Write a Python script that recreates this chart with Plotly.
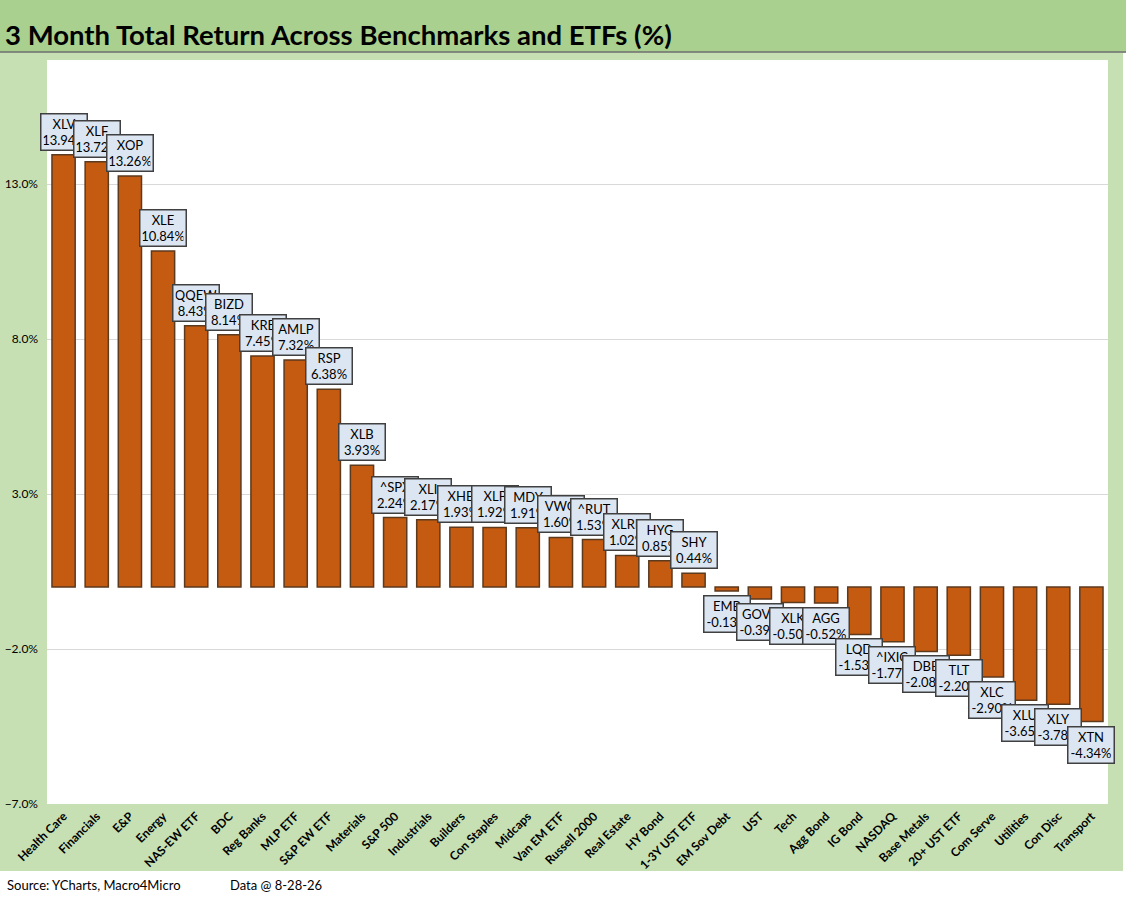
import plotly.graph_objects as go

# Data
categories = ["Health Care", "Financials", "E&P", "Energy", "NAS-EW ETF", "BDC", "Reg Banks",
              "MLP ETF", "S&P EW ETF", "Materials", "S&P 500", "Industrials", "Builders",
              "Con Staples", "Midcaps", "Van EM ETF", "Russell 2000", "Real Estate", "HY Bond",
              "1-3Y UST ETF", "EM Sov Debt", "UST", "Tech", "Agg Bond", "IG Bond", "NASDAQ",
              "Base Metals", "20+ UST ETF", "Com Serve", "Utilities", "Con Disc", "Transport"]
tickers = ["XLV", "XLF", "XOP", "XLE", "QQEW", "BIZD", "KRE", "AMLP", "RSP", "XLB", "^SPX",
           "XLI", "XHB", "XLP", "MDY", "VWO", "^RUT", "XLRE", "HYG", "SHY", "EMB", "GOVT",
           "XLK", "AGG", "LQD", "^IXIC", "DBB", "TLT", "XLC", "XLU", "XLY", "XTN"]
returns = [13.94, 13.72, 13.26, 10.84, 8.43, 8.14, 7.45, 7.32, 6.38, 3.93, 2.24, 2.17, 1.93,
           1.92, 1.91, 1.60, 1.53, 1.02, 0.85, 0.44, -0.13, -0.39, -0.50, -0.52, -1.53, -1.77,
           -2.08, -2.20, -2.90, -3.65, -3.78, -4.34]

W, H = 1126, 897
L, R, T, B = 47, 18, 60, 93
pw, ph = W - L - R, H - T - B


def px(x):
    return (x - L) / pw


def py(y):
    return (H - B - y) / ph


FONT = "Lato"

fig = go.Figure()
fig.add_trace(go.Bar(
    x=categories,
    y=returns,
    marker=dict(color="#c55a11", line=dict(color="#5c3a1e", width=1.5)),
    hoverinfo="skip",
))

# Callout labels: ticker and value, above positive bars, below negative bars
for cat, tk, v in zip(categories, tickers, returns):
    fig.add_annotation(
        x=cat, y=v, xref="x", yref="y",
        text=f"{tk}<br>{v:.2f}%",
        showarrow=False,
        yanchor="bottom" if v >= 0 else "top",
        yshift=4 if v >= 0 else -4,
        font=dict(family=FONT, size=13, color="black"),
        bgcolor="#dce6f2", bordercolor="#404040", borderwidth=1.5,
        borderpad=2, width=41, height=31,
    )

# Title bar, outer frame and footer
fig.add_shape(type="rect", xref="paper", yref="paper", x0=px(0), x1=px(W), y0=py(52), y1=py(0),
              fillcolor="#a9d08e", line_width=0, layer="below")
fig.add_shape(type="line", xref="paper", yref="paper", x0=px(0), x1=px(W), y0=py(52), y1=py(52),
              line=dict(color="#6f6f6f", width=1.5))
fig.add_shape(type="rect", xref="paper", yref="paper", x0=px(0), x1=px(W), y0=py(H), y1=py(871),
              fillcolor="white", line_width=0, layer="below")
fig.add_shape(type="rect", xref="paper", yref="paper", x0=px(1123), x1=px(W), y0=py(871), y1=py(53),
              fillcolor="white", line_width=0, layer="below")

fig.add_annotation(xref="paper", yref="paper", x=px(5), y=py(885), xanchor="left", yanchor="middle",
                   text="Source: YCharts, Macro4Micro", showarrow=False,
                   font=dict(family=FONT, size=13, color="black"))
fig.add_annotation(xref="paper", yref="paper", x=px(228), y=py(885), xanchor="left", yanchor="middle",
                   text="Data @ 8-28-26", showarrow=False,
                   font=dict(family=FONT, size=13, color="black"))

fig.update_layout(
    width=W, height=H,
    margin=dict(l=L, r=R, t=T, b=B, pad=0, autoexpand=False),
    paper_bgcolor="#c6e0b4",
    plot_bgcolor="white",
    showlegend=False,
    bargap=0.3,
    title=dict(text="<b>3 Month Total Return Across Benchmarks and ETFs (%)</b>",
               x=5 / W, xref="container", xanchor="left",
               y=1 - 35 / H, yref="container", yanchor="middle",
               font=dict(family=FONT, size=27.5, color="black")),
    xaxis=dict(type="category", range=[-0.5, len(categories) - 0.5], tickangle=-45,
               showgrid=False, showline=False, zeroline=False, automargin=False, ticks="",
               tickfont=dict(family=FONT, size=12, color="black", weight="bold"),
               ticklabelstandoff=2),
    yaxis=dict(range=[-7, 17], tick0=-7, dtick=5, tickformat=".1f", ticksuffix="%",
               showgrid=True, gridcolor="#d9d9d9", gridwidth=1, zeroline=False, showline=False,
               automargin=False, ticks="", tickfont=dict(family=FONT, size=12, color="black"),
               ticklabelstandoff=8),
)

fig.write_html("out.html", config={"displayModeBar": False},
               post_script="document.body.style.margin='0';document.body.style.overflow='hidden';")
